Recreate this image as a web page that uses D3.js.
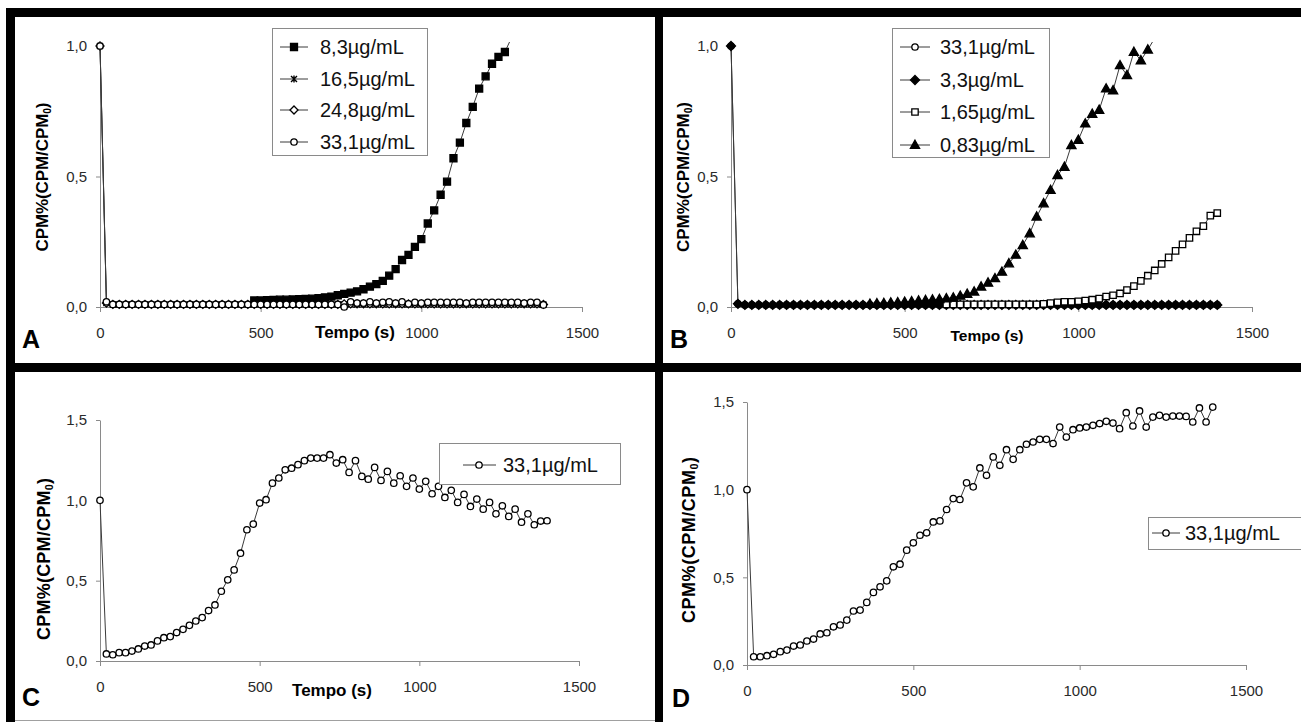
<!DOCTYPE html>
<html>
<head>
<meta charset="utf-8">
<script src="https://cdn.jsdelivr.net/npm/d3@7"></script>
<style>
  body { margin: 0; background: #fff; }
  svg { display: block; font-family: "Liberation Sans", Arial, sans-serif; }
</style>
</head>
<body>
<div id="chart"></div>
<script>
// sampling times (s), every 20 s
const times = [0,20,40,60,80,100,120,140,160,180,200,220,240,260,280,300,320,340,360,380,
  400,420,440,460,480,500,520,540,560,580,600,620,640,660,680,700,720,740,760,780,
  800,820,840,860,880,900,920,940,960,980,1000,1020,1040,1060,1080,1100,1120,1140,1160,1180,
  1200,1220,1240,1260,1280,1300,1320,1340,1360,1380,1400];

const xTicks = [0, 500, 1000, 1500];
const yTicksAB = [0, 0.5, 1.0];
const yTicksCD = [0, 0.5, 1.0, 1.5];

// panel A
const a83Start = 480;
const a83 = [0.025,0.025,0.026,0.027,0.028,0.028,0.029,0.03,0.031,0.032,
  0.034,0.037,0.04,0.045,0.05,0.055,0.06,0.068,0.078,0.088,
  0.1,0.12,0.145,0.18,0.2,0.23,0.26,0.32,0.37,0.43,
  0.48,0.57,0.63,0.705,0.767,0.837,0.884,0.932,0.958,0.977,
  1.03];
const a165 = [1.0,0.015,0.01,0.01,0.01,0.01,0.01,0.01,0.01,0.01,
  0.01,0.01,0.01,0.01,0.01,0.01,0.01,0.01,0.01,0.01,
  0.01,0.01,0.01,0.01,0.01,0.01,0.01,0.01,0.01,0.01,
  0.01,0.01,0.01,0.01,0.01,0.01,0.01,0.01,0.01,0.01,
  0.01,0.01,0.01,0.01,0.01,0.01,0.01,0.01,0.01,0.01,
  0.01,0.01,0.01,0.01,0.01,0.01,0.01,0.01,0.01,0.01,
  0.01,0.01,0.01,0.01,0.01,0.01,0.01,0.01,0.01,0.01];
const a248 = [1.0,0.015,0.01,0.01,0.01,0.01,0.01,0.01,0.01,0.01,
  0.01,0.01,0.01,0.01,0.01,0.01,0.01,0.01,0.01,0.01,
  0.01,0.01,0.01,0.01,0.01,0.01,0.01,0.01,0.01,0.01,
  0.01,0.01,0.01,0.01,0.01,0.01,0.01,0.01,0.012,0.012,
  0.012,0.012,0.012,0.012,0.012,0.012,0.012,0.012,0.012,0.012,
  0.012,0.012,0.012,0.012,0.012,0.012,0.012,0.012,0.012,0.012,
  0.012,0.012,0.012,0.012,0.012,0.012,0.012,0.012,0.012,0.01];
const a331 = [1.0,0.02,0.01,0.01,0.01,0.01,0.01,0.01,0.01,0.01,
  0.01,0.01,0.01,0.01,0.01,0.01,0.01,0.01,0.01,0.01,
  0.01,0.01,0.01,0.01,0.01,0.01,0.01,0.01,0.01,0.01,
  0.01,0.01,0.01,0.01,0.01,0.01,0.01,0.01,
  0.0,0.02,0.015,0.015,0.02,0.015,0.018,0.02,0.015,0.02,
  0.012,0.018,0.015,0.018,0.018,0.018,0.018,0.018,0.018,0.015,
  0.018,0.018,0.018,0.018,0.018,0.018,0.018,0.018,0.015,0.018,
  0.018,0.008];

// panel B
const b331 = [1.0,0.012,0.008,0.008,0.008,0.008,0.008,0.008,0.008,0.008,
  0.008,0.008,0.008,0.008,0.008,0.008,0.008,0.008,0.008,0.008,
  0.008,0.008,0.008,0.008,0.008,0.008,0.008,0.008,0.008,0.008,
  0.008,0.008,0.008,0.008,0.008,0.008,0.008,0.008,0.008,0.008,
  0.008,0.008,0.008,0.008,0.008,0.008,0.008,0.008,0.008,0.008,
  0.008,0.008,0.008,0.008,0.008,0.008,0.008,0.008,0.008,0.008,
  0.008,0.008,0.008,0.008,0.008,0.008,0.008,0.008,0.008,0.008,0.008];
const b33 = [1.0,0.012,0.008,0.008,0.008,0.008,0.008,0.008,0.008,0.008,
  0.008,0.008,0.008,0.008,0.008,0.008,0.008,0.008,0.008,0.008,
  0.008,0.008,0.008,0.008,0.008,0.008,0.008,0.008,0.008,0.008,
  0.008,0.008,0.008,0.008,0.008,0.008,0.008,0.008,0.008,0.008,
  0.008,0.008,0.008,0.008,0.008,0.008,0.008,0.008,0.008,0.008,
  0.008,0.008,0.008,0.008,0.008,0.008,0.008,0.008,0.008,0.008,
  0.008,0.008,0.008,0.008,0.008,0.008,0.008,0.008,0.008,0.008,0.008];
const b165Start = 620;
const b165 = [0.01,0.01,0.01,0.01,0.01,0.01,0.01,0.01,0.01,0.01,0.01,0.01,0.01,0.01,
  0.012,0.015,0.018,0.02,0.02,0.022,0.025,0.028,0.032,0.04,
  0.045,0.052,0.065,0.08,0.1,0.12,0.14,0.165,0.19,0.215,
  0.24,0.265,0.29,0.31,0.35,0.36];
const b083Start = 400;
const b083 = [0.012,0.014,0.015,0.017,0.018,0.02,0.022,0.024,0.026,0.028,
  0.03,0.033,0.036,0.043,0.05,0.059,0.078,0.093,0.11,0.135,
  0.167,0.2,0.237,0.282,0.346,0.397,0.448,0.505,0.537,0.62,
  0.64,0.703,0.74,0.755,0.837,0.83,0.926,0.888,0.977,0.945,
  0.986,1.03];

// panel C
const c331 = [1.0,0.044,0.039,0.052,0.052,0.062,0.075,0.093,0.1,0.125,
  0.145,0.152,0.177,0.197,0.222,0.249,0.27,0.314,0.349,0.434,
  0.505,0.567,0.671,0.817,0.852,0.983,1.004,1.107,1.139,1.19,
  1.2,1.222,1.247,1.263,1.263,1.263,1.284,1.232,1.253,1.174,
  1.247,1.149,1.132,1.205,1.124,1.18,1.107,1.153,1.087,1.139,
  1.07,1.118,1.041,1.087,1.018,1.062,0.987,1.037,0.962,1.008,
  0.945,0.987,0.916,0.966,0.9,0.945,0.864,0.916,0.848,0.871,0.873];

// panel D
const d331 = [1.0,0.047,0.047,0.053,0.061,0.076,0.085,0.108,0.114,0.137,
  0.148,0.177,0.184,0.218,0.228,0.256,0.308,0.313,0.357,0.414,
  0.446,0.48,0.56,0.575,0.655,0.697,0.74,0.754,0.816,0.822,
  0.887,0.949,0.944,1.039,1.016,1.124,1.082,1.187,1.139,1.228,
  1.173,1.228,1.259,1.272,1.287,1.287,1.263,1.357,1.3,1.342,
  1.352,1.357,1.367,1.377,1.39,1.38,1.348,1.439,1.363,1.449,
  1.357,1.414,1.424,1.414,1.42,1.42,1.418,1.386,1.466,1.386,1.471];

const width = 1301, height = 722;
const svg = d3.select("#chart").append("svg")
  .attr("width", width)
  .attr("height", height);

svg.append("rect").attr("width", width).attr("height", height).attr("fill", "#fff");

const commaFmt = d3.formatLocale({ decimal: ",", thousands: ".", grouping: [3], currency: ["", ""] }).format(".1f");

// marker shapes
const markers = {
  squareFilled: { path: "M-3.5,-3.5H3.5V3.5H-3.5Z", fill: "#000" },
  squareOpen: { path: "M-3.2,-3.2H3.2V3.2H-3.2Z", fill: "#fff" },
  star: { path: "M-3,-3L3,3M3,-3L-3,3M0,-3.5V3.5", fill: "none" },
  diamondOpen: { path: "M0,-4L4,0L0,4L-4,0Z", fill: "#fff" },
  diamondFilled: { path: "M0,-4.5L4.5,0L0,4.5L-4.5,0Z", fill: "#000" },
  circle: { path: "M3.2,0A3.2,3.2 0 1 1 -3.2,0A3.2,3.2 0 1 1 3.2,0Z", fill: "#fff" },
  triangle: { path: "M0,-4.8L4.6,3.4H-4.6Z", fill: "#000" }
};

function series(label, values, marker, start) {
  const i0 = times.indexOf(start || 0);
  return { label, marker, points: values.map((v, i) => ({ t: times[i0 + i], v })) };
}

const panels = [
  { letter: "A", lx: 22, ly: 348, x0: 100, x1: 582, yTop: 46, yBot: 307, yMax: 1, yTicks: yTicksAB,
    ylab: { x: 48, y: 177, len: 149, size: 17 }, xlab: { x: 355, y: 338, size: 17 },
    legend: { x: 272, y: 28, w: 155, h: 127, rows: [47, 79, 110, 142], l0: 280, l1: 308, m: 294, tx: 320 },
    series: [
      series("8,3µg/mL", a83, "squareFilled", a83Start),
      series("16,5µg/mL", a165, "star"),
      series("24,8µg/mL", a248, "diamondOpen"),
      series("33,1µg/mL", a331, "circle")
    ] },
  { letter: "B", lx: 670, ly: 348, x0: 731, x1: 1252, yTop: 46, yBot: 307, yMax: 1, yTicks: yTicksAB,
    ylab: { x: 689, y: 177, len: 150, size: 17 }, xlab: { x: 987, y: 341, size: 15.5 },
    legend: { x: 892, y: 28, w: 157, h: 129, rows: [47, 80, 112, 145], l0: 900, l1: 930, m: 915, tx: 940 },
    series: [
      series("33,1µg/mL", b331, "circle"),
      series("3,3µg/mL", b33, "diamondFilled"),
      series("1,65µg/mL", b165, "squareOpen", b165Start),
      series("0,83µg/mL", b083, "triangle", b083Start)
    ] },
  { letter: "C", lx: 22, ly: 706, x0: 100, x1: 579, yTop: 420, yBot: 661, yMax: 1.5, yTicks: yTicksCD,
    ylab: { x: 50, y: 559, len: 162, size: 18 }, xlab: { x: 332, y: 696, size: 17 },
    legend: { x: 439, y: 443, w: 181, h: 41, rows: [465], l0: 463, l1: 496, m: 479, tx: 503 },
    series: [ series("33,1µg/mL", c331, "circle") ] },
  { letter: "D", lx: 672, ly: 707, x0: 747, x1: 1246, yTop: 402, yBot: 665, yMax: 1.5, yTicks: yTicksCD,
    ylab: { x: 695, y: 540, len: 166, size: 18 }, xlab: null,
    legend: { x: 1148, y: 517, w: 170, h: 32, rows: [533], l0: 1152, l1: 1180, m: 1166, tx: 1185 },
    series: [ series("33,1µg/mL", d331, "circle") ] }
];

function drawMarker(sel, name) {
  const m = markers[name];
  sel.append("path")
    .attr("d", m.path)
    .attr("fill", m.fill)
    .attr("stroke", "#000")
    .attr("stroke-width", name === "star" ? 1.4 : 1.3);
}

panels.forEach((p, pi) => {
  const g = svg.append("g").attr("class", "panel-" + p.letter);
  const x = d3.scaleLinear().domain([0, 1500]).range([p.x0, p.x1]);
  const y = d3.scaleLinear().domain([0, p.yMax]).range([p.yBot, p.yTop]);

  // axes
  const xAxis = g.append("g")
    .attr("transform", `translate(0,${p.yBot})`)
    .call(d3.axisBottom(x).tickValues(xTicks).tickFormat(d3.format("d")).tickSize(5).tickSizeOuter(0).tickPadding(15));
  const yAxis = g.append("g")
    .attr("transform", `translate(${p.x0},0)`)
    .call(d3.axisLeft(y).tickValues(p.yTicks).tickFormat(commaFmt).tickSize(4).tickSizeOuter(0).tickPadding(9));
  [xAxis, yAxis].forEach(a => {
    a.select(".domain").attr("stroke", "#8a8a8a");
    a.selectAll(".tick line").attr("stroke", "#8a8a8a");
    a.selectAll(".tick text").attr("fill", "#2a2a2a").attr("font-size", 15)
      .attr("font-family", "'Liberation Sans', Arial, sans-serif");
  });

  // axis titles
  const yl = g.append("text")
    .attr("transform", `translate(${p.ylab.x},${p.ylab.y}) rotate(-90)`)
    .attr("text-anchor", "middle")
    .attr("font-weight", "bold")
    .attr("font-size", p.ylab.size)
    .attr("textLength", p.ylab.len)
    .attr("lengthAdjust", "spacing");
  yl.append("tspan").text("CPM%(CPM/CPM");
  yl.append("tspan").attr("font-size", p.ylab.size * 0.6).attr("dy", 3).text("0");
  yl.append("tspan").attr("dy", -3).text(")");

  if (p.xlab) {
    g.append("text")
      .attr("x", p.xlab.x).attr("y", p.xlab.y)
      .attr("text-anchor", "middle")
      .attr("font-weight", "bold")
      .attr("font-size", p.xlab.size)
      .text("Tempo (s)");
  }

  // panel letter
  g.append("text")
    .attr("x", p.lx).attr("y", p.ly)
    .attr("font-weight", "bold")
    .attr("font-size", 25)
    .text(p.letter);

  // plot clip (values above the axis max are cut at the top)
  const clipId = "clip" + pi;
  svg.append("clipPath").attr("id", clipId)
    .append("rect")
    .attr("x", p.x0 - 10).attr("y", p.yTop - 4)
    .attr("width", p.x1 - p.x0 + 20).attr("height", p.yBot - p.yTop + 14);

  const line = d3.line().x(d => x(d.t)).y(d => y(d.v));

  p.series.forEach(s => {
    const sg = g.append("g");
    sg.append("path")
      .datum(s.points)
      .attr("clip-path", `url(#${clipId})`)
      .attr("d", line)
      .attr("fill", "none")
      .attr("stroke", "#3a3a3a")
      .attr("stroke-width", 1);
    sg.selectAll("g.mk")
      .data(s.points.filter(d => d.v <= p.yMax))
      .join("g")
      .attr("class", "mk")
      .attr("transform", d => `translate(${x(d.t)},${y(d.v)})`)
      .each(function () { drawMarker(d3.select(this), s.marker); });
  });

  // legend
  const L = p.legend;
  const lg = g.append("g");
  lg.append("rect")
    .attr("x", L.x + 0.5).attr("y", L.y + 0.5)
    .attr("width", L.w).attr("height", L.h)
    .attr("fill", "#fff").attr("stroke", "#8a8a8a");
  p.series.forEach((s, i) => {
    const ry = L.rows[i];
    lg.append("line")
      .attr("x1", L.l0).attr("x2", L.l1).attr("y1", ry).attr("y2", ry)
      .attr("stroke", "#3a3a3a");
    const mg = lg.append("g").attr("transform", `translate(${L.m},${ry})`);
    drawMarker(mg, s.marker);
    lg.append("text")
      .attr("x", L.tx).attr("y", ry).attr("dy", "0.35em")
      .attr("font-size", 20)
      .attr("fill", "#111")
      .text(s.label);
  });
});

// frame borders
const frame = [
  [6, 8, 1295, 9],
  [6, 8, 9, 714],
  [6, 363, 1295, 9],
  [655, 8, 8, 714]
];
svg.append("g").selectAll("rect")
  .data(frame)
  .join("rect")
  .attr("x", d => d[0]).attr("y", d => d[1])
  .attr("width", d => d[2]).attr("height", d => d[3])
  .attr("fill", "#000");
svg.append("line")
  .attr("x1", 15).attr("x2", 655).attr("y1", 720.5).attr("y2", 720.5)
  .attr("stroke", "#a0a0a0");
</script>
</body>
</html>
